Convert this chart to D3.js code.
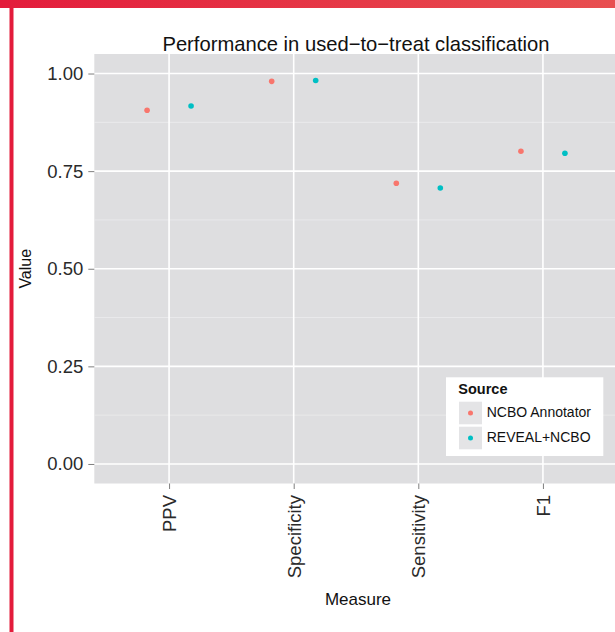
<!DOCTYPE html>
<html><head><meta charset="utf-8">
<script src="https://cdn.jsdelivr.net/npm/d3@7"></script>
<style>
body{margin:0;background:#fff}
svg{display:block}
text{font-family:"Liberation Sans",Arial,Helvetica,sans-serif}
</style>
</head><body>
<svg id="c" width="615" height="632"></svg>
<script>
// ---- data ----
const measures = ["PPV", "Specificity", "Sensitivity", "F1"];
const sources = ["NCBO Annotator", "REVEAL+NCBO"];
const ncboValues = [0.906, 0.980, 0.719, 0.801];
const revealValues = [0.917, 0.982, 0.707, 0.796];
const yTicks = [0, 0.25, 0.5, 0.75, 1.0];
const yMinorTicks = [0.125, 0.375, 0.625, 0.875];
const sourceColors = ["#F8766D", "#00BFC4"];
const chartTitle = "Performance in used\u2212to\u2212treat classification";

const seriesValues = [ncboValues, revealValues];
const points = [];
sources.forEach((s, si) => measures.forEach((m, mi) => points.push({source: s, si, measure: m, value: seriesValues[si][mi]})));

// ---- layout ----
const W = 615, H = 632;
const pLeft = 94.3, pRight = 617.7, pTop = 54, pBottom = 483.5;
const svg = d3.select("#c");

// red frame
const defs = svg.append("defs");
const grad = defs.append("linearGradient").attr("id", "redg").attr("x1", "0").attr("x2", "1");
grad.append("stop").attr("offset", "0").attr("stop-color", "#e31c3b");
grad.append("stop").attr("offset", "1").attr("stop-color", "#e84f50");
svg.append("rect").attr("x", 0).attr("y", 0).attr("width", W).attr("height", 8).attr("fill", "url(#redg)");
svg.append("rect").attr("x", 9.5).attr("y", 8).attr("width", 4).attr("height", H - 8).attr("fill", "#e31c3b");

const x = d3.scalePoint().domain(measures).range([pLeft, pRight]).padding(0.6);
const y = d3.scaleLinear().domain([-0.05, 1.05]).range([pBottom, pTop]);
const color = d3.scaleOrdinal().domain(sources).range(sourceColors);
const dodge = x.step() * 0.1765;

// panel
svg.append("rect").attr("x", pLeft).attr("y", pTop).attr("width", pRight - pLeft).attr("height", pBottom - pTop).attr("fill", "#dedee0");
const grid = svg.append("g");
grid.selectAll(".minor").data(yMinorTicks).join("line")
  .attr("x1", pLeft).attr("x2", pRight).attr("y1", d => y(d)).attr("y2", d => y(d))
  .attr("stroke", "#ececed").attr("stroke-width", 0.8);
grid.selectAll(".majy").data(yTicks).join("line")
  .attr("x1", pLeft).attr("x2", pRight).attr("y1", d => y(d)).attr("y2", d => y(d))
  .attr("stroke", "#ffffff").attr("stroke-width", 1.6);
grid.selectAll(".majx").data(measures).join("line")
  .attr("x1", d => x(d)).attr("x2", d => x(d)).attr("y1", pTop).attr("y2", pBottom)
  .attr("stroke", "#ffffff").attr("stroke-width", 1.6);

// points
svg.append("g").selectAll("circle").data(points).join("circle")
  .attr("cx", d => x(d.measure) + (d.si === 0 ? -dodge : dodge))
  .attr("cy", d => y(d.value))
  .attr("r", 2.8)
  .attr("fill", d => color(d.source));

// y axis
const yAxis = svg.append("g").attr("transform", `translate(${pLeft},0)`)
  .call(d3.axisLeft(y).tickValues(yTicks).tickFormat(d3.format(".2f")).tickSize(6).tickPadding(5));
yAxis.select(".domain").remove();
yAxis.selectAll(".tick line").attr("stroke", "#7f7f7f").attr("stroke-width", 1);
yAxis.selectAll(".tick text").attr("font-size", "18.5px").attr("fill", "#2a2a2a")
  .attr("font-family", "'Liberation Sans', Arial, sans-serif");

// x axis
const xAxis = svg.append("g").attr("transform", `translate(0,${pBottom})`)
  .call(d3.axisBottom(x).tickSize(5.5).tickPadding(6));
xAxis.select(".domain").remove();
xAxis.selectAll(".tick line").attr("stroke", "#7f7f7f").attr("stroke-width", 1);
xAxis.selectAll(".tick text")
  .attr("transform", "rotate(-90)")
  .attr("text-anchor", "end")
  .attr("x", -11.5).attr("y", 0).attr("dy", "0.35em")
  .attr("font-size", "18.5px").attr("fill", "#2a2a2a")
  .attr("font-family", "'Liberation Sans', Arial, sans-serif");

// titles
svg.append("text").attr("x", (pLeft + pRight) / 2).attr("y", 51).attr("text-anchor", "middle")
  .attr("font-size", "20.2px").attr("fill", "#111").text(chartTitle);
svg.append("text").attr("x", (pLeft + pRight) / 2 + 2).attr("y", 605).attr("text-anchor", "middle")
  .attr("font-size", "17px").attr("fill", "#111").text("Measure");
svg.append("text").attr("transform", `translate(31,${(pTop + pBottom) / 2}) rotate(-90)`).attr("text-anchor", "middle")
  .attr("font-size", "16px").attr("fill", "#111").text("Value");

// legend
const lg = svg.append("g").attr("transform", "translate(446,377.3)");
lg.append("rect").attr("width", 157.3).attr("height", 78.7).attr("fill", "#ffffff");
lg.append("text").attr("x", 12.3).attr("y", 16.7).attr("font-size", "14.5px").attr("font-weight", "bold").attr("fill", "#111").text("Source");
const items = lg.selectAll(".item").data(sources).join("g").attr("transform", (d, i) => `translate(13,${24.4 + i * 25})`);
items.append("rect").attr("width", 23).attr("height", 22.6).attr("fill", "#e4e4e6");
items.append("circle").attr("cx", 11.5).attr("cy", 11.3).attr("r", 2.5).attr("fill", d => color(d));
items.append("text").attr("x", 27.7).attr("y", 15).attr("font-size", "14px").attr("fill", "#111").text(d => d);
</script>
</body></html>
